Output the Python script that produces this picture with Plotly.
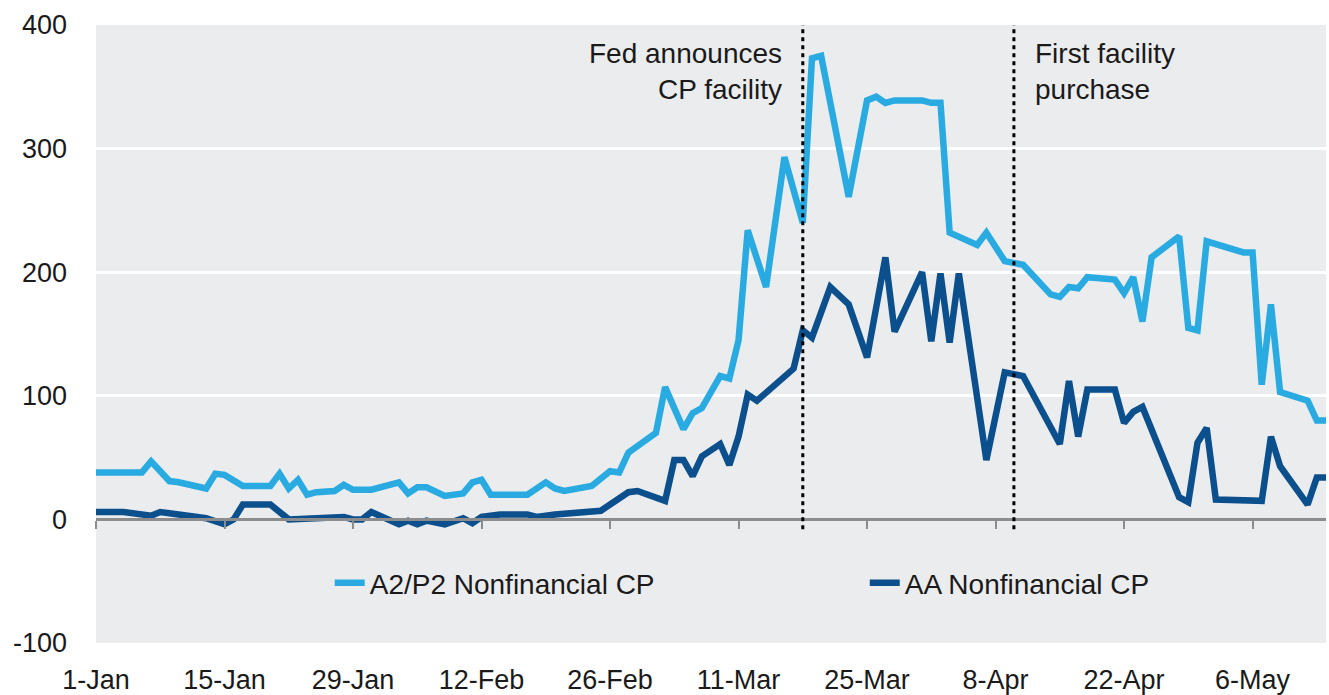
import plotly.graph_objects as go

# A2/P2 nonfinancial CP spread (bp), vertices
a2p2_dates = ["2020-01-01", "2020-01-06", "2020-01-07", "2020-01-09", "2020-01-10", "2020-01-13",
              "2020-01-14", "2020-01-15", "2020-01-17", "2020-01-20", "2020-01-21", "2020-01-22",
              "2020-01-23", "2020-01-24", "2020-01-25", "2020-01-27", "2020-01-28", "2020-01-29",
              "2020-01-31", "2020-02-01", "2020-02-03", "2020-02-04", "2020-02-05", "2020-02-06",
              "2020-02-08", "2020-02-10", "2020-02-11", "2020-02-12", "2020-02-13", "2020-02-17",
              "2020-02-19", "2020-02-20", "2020-02-21", "2020-02-24", "2020-02-26", "2020-02-27",
              "2020-02-28", "2020-03-02", "2020-03-03", "2020-03-05", "2020-03-06", "2020-03-07",
              "2020-03-09", "2020-03-10", "2020-03-11", "2020-03-12", "2020-03-14", "2020-03-16",
              "2020-03-18", "2020-03-19", "2020-03-20", "2020-03-23", "2020-03-25", "2020-03-26",
              "2020-03-27", "2020-03-28", "2020-03-31", "2020-04-01", "2020-04-02", "2020-04-03",
              "2020-04-06", "2020-04-07", "2020-04-09", "2020-04-11", "2020-04-14", "2020-04-15",
              "2020-04-16", "2020-04-17", "2020-04-18", "2020-04-21", "2020-04-22", "2020-04-23",
              "2020-04-24", "2020-04-25", "2020-04-28", "2020-04-29", "2020-04-30", "2020-05-01",
              "2020-05-05", "2020-05-06", "2020-05-07", "2020-05-08", "2020-05-09", "2020-05-12",
              "2020-05-13", "2020-05-14"]
a2p2_vals = [38, 38, 47, 31, 30, 25,
             37, 36, 27, 27, 37, 25,
             32, 20, 22, 23, 28, 24,
             24, 26, 30, 21, 26, 26,
             19, 21, 30, 32, 20, 20,
             30, 25, 23, 27, 39, 38,
             54, 70, 107, 73, 86, 90,
             116, 114, 145, 234, 188, 293,
             240, 373, 375, 261, 339, 342,
             337, 339, 339, 337, 337, 232,
             222, 232, 209, 206, 182, 180,
             188, 187, 196, 194, 183, 196,
             160, 212, 229, 155, 153, 225,
             216, 216, 109, 174, 103, 96,
             80, 80]

# AA nonfinancial CP spread (bp)
aa_dates = ["2020-01-01", "2020-01-04", "2020-01-07", "2020-01-08", "2020-01-09", "2020-01-11",
            "2020-01-13", "2020-01-15", "2020-01-16", "2020-01-17", "2020-01-20", "2020-01-22",
            "2020-01-26", "2020-01-28", "2020-01-29", "2020-01-30", "2020-01-31", "2020-02-03",
            "2020-02-04", "2020-02-05", "2020-02-06", "2020-02-08", "2020-02-10", "2020-02-11",
            "2020-02-12", "2020-02-14", "2020-02-17", "2020-02-18", "2020-02-20", "2020-02-22",
            "2020-02-25", "2020-02-28", "2020-02-29", "2020-03-03", "2020-03-04", "2020-03-05",
            "2020-03-06", "2020-03-07", "2020-03-09", "2020-03-10", "2020-03-11", "2020-03-12",
            "2020-03-13", "2020-03-17", "2020-03-18", "2020-03-19", "2020-03-21", "2020-03-23",
            "2020-03-25", "2020-03-27", "2020-03-28", "2020-03-31", "2020-04-01", "2020-04-02",
            "2020-04-03", "2020-04-04", "2020-04-07", "2020-04-09", "2020-04-11", "2020-04-15",
            "2020-04-16", "2020-04-17", "2020-04-18", "2020-04-21", "2020-04-22", "2020-04-23",
            "2020-04-24", "2020-04-28", "2020-04-29", "2020-04-30", "2020-05-01", "2020-05-02",
            "2020-05-05", "2020-05-07", "2020-05-08", "2020-05-09", "2020-05-12", "2020-05-13",
            "2020-05-14"]
aa_vals = [6, 6, 3, 6, 5, 3,
           1, -4, 0, 12, 12, 0,
           1, 2, 0, 0, 6, -4,
           -1, -4, -1, -4, 1, -3,
           2, 4, 4, 2, 4, 5,
           7, 22, 23, 15, 48, 48,
           35, 51, 61, 44, 67, 101,
           96, 122, 153, 147, 188, 174,
           131, 212, 152, 200, 144, 199,
           143, 199, 48, 119, 116, 61,
           112, 67, 105, 105, 78, 87,
           91, 18, 14, 62, 74, 16,
           15, 15, 67, 43, 12, 34,
           34]

tick_dates = ["2020-01-01", "2020-01-15", "2020-01-29", "2020-02-12", "2020-02-26",
              "2020-03-11", "2020-03-25", "2020-04-08", "2020-04-22", "2020-05-06"]
tick_labels = ["1-Jan", "15-Jan", "29-Jan", "12-Feb", "26-Feb",
               "11-Mar", "25-Mar", "8-Apr", "22-Apr", "6-May"]
y_ticks = [-100, 0, 100, 200, 300, 400]
y_labels = ["-100", "0", "100", "200", "300", "400"]

event_dates = ["2020-03-18", "2020-04-10"]
event_labels = ["Fed announces<br>CP facility", "First facility<br>purchase"]

x_range = ["2020-01-01", "2020-05-14"]
FONT = "Liberation Sans, Arial, sans-serif"
LIGHT = "#29ABE2"
DARK = "#0B4F8C"
TXT = "#1a1a1a"

fig = go.Figure()
fig.add_trace(go.Scatter(x=a2p2_dates, y=a2p2_vals, mode="lines", name="A2/P2 Nonfinancial CP",
                         line=dict(color=LIGHT, width=6.5), legend="legend"))
fig.add_trace(go.Scatter(x=aa_dates, y=aa_vals, mode="lines", name="AA Nonfinancial CP",
                         line=dict(color=DARK, width=6.5), legend="legend2"))
# empty trace so the zero-level axis (line + ticks) gets drawn
fig.add_trace(go.Scatter(x=[], y=[], xaxis="x2", showlegend=False, hoverinfo="skip"))

for d in event_dates:
    fig.add_shape(type="line", xref="x", yref="y", x0=d, x1=d, y0=-8, y1=405,
                  line=dict(color="black", width=3, dash="4px,4px"))

fig.add_annotation(x=event_dates[0], y=400, xref="x", yref="y", text=event_labels[0],
                   showarrow=False, xanchor="right", yanchor="top", align="right", xshift=-19, yshift=-11,
                   font=dict(family=FONT, size=28, color=TXT))
fig.add_annotation(x=event_dates[1], y=400, xref="x", yref="y", text=event_labels[1],
                   showarrow=False, xanchor="left", yanchor="top", align="left", xshift=19, yshift=-11,
                   font=dict(family=FONT, size=28, color=TXT))

legend_style = dict(orientation="h", y=0.097, xanchor="left", yanchor="middle",
                    bgcolor="rgba(0,0,0,0)", font=dict(family=FONT, size=28, color=TXT))

fig.update_layout(
    width=1329, height=695,
    margin=dict(l=96, r=3, t=25, b=52),
    paper_bgcolor="white",
    plot_bgcolor="#EBECEE",
    font=dict(family=FONT, size=27, color=TXT),
    showlegend=True,
    legend=dict(x=0.19, **legend_style),
    legend2=dict(x=0.625, **legend_style),
    xaxis=dict(type="date", range=x_range, tickvals=tick_dates, ticktext=tick_labels,
               showgrid=False, zeroline=False, showline=False, ticks="",
               ticklabelstandoff=18, automargin=False),
    xaxis2=dict(type="date", range=x_range, overlaying="x", anchor="free", position=0.2,
                tickvals=tick_dates, showticklabels=False, showgrid=False, zeroline=False,
                showline=True, linecolor="#8c8c8c", linewidth=2.5, automargin=False,
                ticks="outside", ticklen=8, tickwidth=2, tickcolor="#8c8c8c"),
    yaxis=dict(range=[-100, 400], tickvals=y_ticks, ticktext=y_labels, showgrid=True,
               gridcolor="white", gridwidth=3, zeroline=False, showline=False, ticks="",
               ticklabelstandoff=28, automargin=False),
)

# drop the default 8px body margin so the figure fills the window exactly
fig.write_html("out.html", config={"displayModeBar": False},
               post_script="document.body.style.margin='0';")
